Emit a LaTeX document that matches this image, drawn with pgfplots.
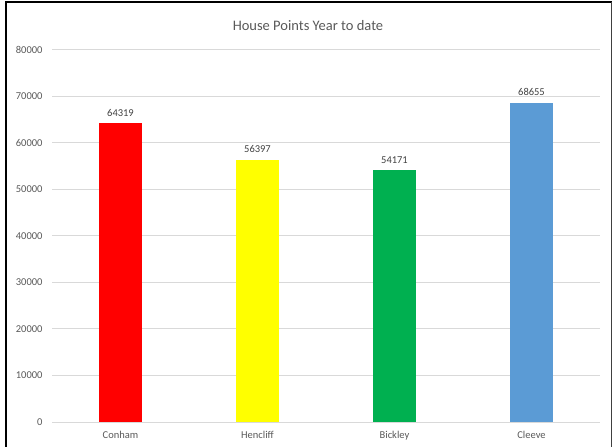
\documentclass[border=0pt]{standalone}
\usepackage{pgfplots}
\pgfplotsset{compat=1.18}
\usepackage{fontspec}
\setmainfont{Carlito}
\definecolor{txtgray}{HTML}{595959}
\definecolor{lblgray}{HTML}{404040}
\definecolor{gridgray}{HTML}{D9D9D9}
\definecolor{cred}{HTML}{FF0000}
\definecolor{cyellow}{HTML}{FFFF00}
\definecolor{cgreen}{HTML}{00B050}
\definecolor{cblue}{HTML}{5B9BD5}
\begin{document}
\begin{tikzpicture}
\path[use as bounding box] (0pt,0pt) rectangle (613pt,447pt);
\draw[black,line width=2pt] (6pt,0pt) -- (6pt,445pt) -- (611.5pt,445pt);
\draw[black!75,line width=1.2pt] (611.5pt,445pt) -- (611.5pt,0pt);
\node[font=\fontsize{14.5}{16}\selectfont,text=txtgray] at (308pt,421pt) {House Points Year to date};
\begin{axis}[
  at={(52pt,25pt)}, anchor=south west,
  scale only axis, width=548pt, height=372.3pt,
  xmin=-0.5, xmax=3.5, ymin=0, ymax=80000,
  ytick={0,10000,...,80000},
  xtick={0,1,2,3},
  xticklabels={Conham,Hencliff,Bickley,Cleeve},
  axis line style={draw=none},
  major tick length=0pt,
  ymajorgrids, grid style={gridgray,line width=0.9pt},
  tick label style={font=\fontsize{10.5}{12}\selectfont,text=txtgray},
  /pgf/number format/assume math mode=true,
  /pgf/number format/fixed,
  /pgf/number format/1000 sep={},
  scaled y ticks=false,
  yticklabel style={xshift=-6pt},
  xticklabel style={yshift=-6pt},
  ybar, bar width=43pt,
  nodes near coords,
  nodes near coords style={font=\fontsize{10.5}{12}\selectfont,text=lblgray,yshift=3pt},
  bar shift=0pt,
]
\addplot[fill=cred,draw=none] coordinates {(0,64319)};
\addplot[fill=cyellow,draw=none] coordinates {(1,56397)};
\addplot[fill=cgreen,draw=none] coordinates {(2,54171)};
\addplot[fill=cblue,draw=none] coordinates {(3,68655)};
\end{axis}
\end{tikzpicture}
\end{document}
